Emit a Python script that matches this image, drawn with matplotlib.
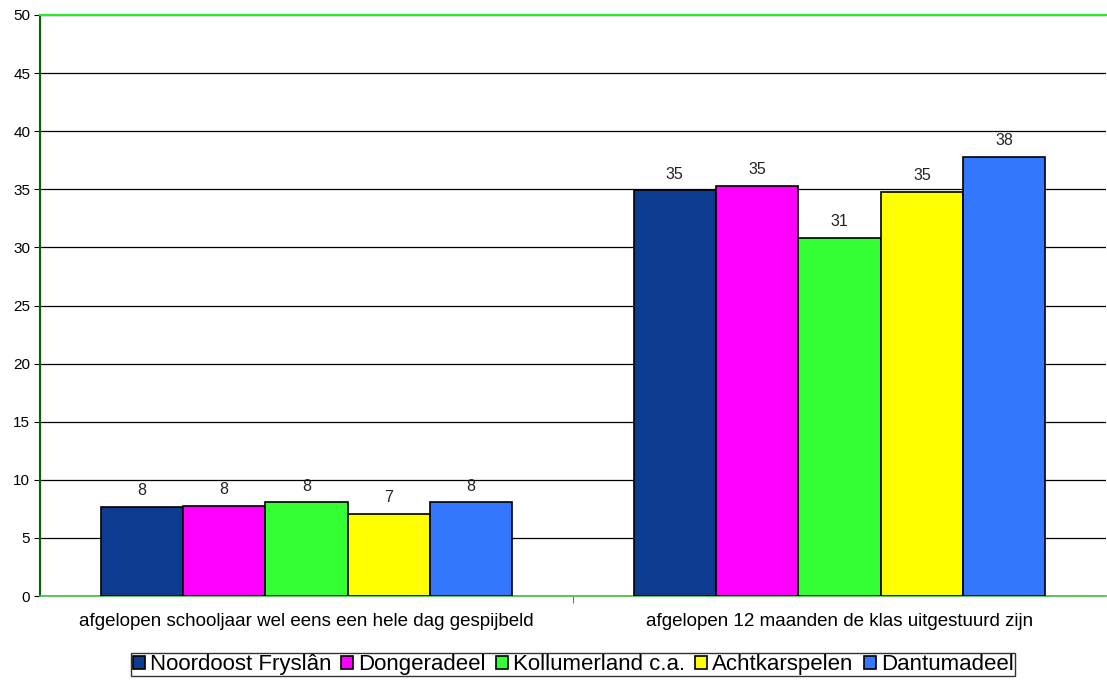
import matplotlib.pyplot as plt
import numpy as np

plt.rcParams['font.family'] = ['Liberation Sans', 'DejaVu Sans']

categories = ['afgelopen schooljaar wel eens een hele dag gespijbeld',
              'afgelopen 12 maanden de klas uitgestuurd zijn']
regions = ['Noordoost Fryslân', 'Dongeradeel', 'Kollumerland c.a.',
           'Achtkarspelen', 'Dantumadeel']
values = [[7.65, 34.9],
          [7.75, 35.3],
          [8.05, 30.8],
          [7.05, 34.75],
          [8.05, 37.8]]
labels = [['8', '35'], ['8', '35'], ['8', '31'], ['7', '35'], ['8', '38']]
colors = ['#0C3B8F', '#FF00FF', '#33FF33', '#FFFF00', '#3377FF']

fig = plt.figure(figsize=(11.07, 6.8), dpi=100)
ax = fig.add_axes([40/1107, 84/680, 1066/1107, 581/680])

x = np.arange(len(categories))
w = 0.1545
for i, (reg, vals) in enumerate(zip(regions, values)):
    pos = x + (i - 2) * w
    ax.bar(pos, vals, w, color=colors[i], edgecolor='black', linewidth=1.2,
           label=reg, zorder=3)
    for p, v, t in zip(pos, vals, labels[i]):
        ax.text(p, v + 0.75, t, ha='center', va='bottom', fontsize=11.5, color='#222222')

ax.set_xlim(-0.5, 1.5)
ax.set_ylim(0, 50)
ax.set_yticks(range(0, 51, 5))
ax.yaxis.grid(True, color='black', linewidth=0.9, zorder=0)
ax.set_axisbelow(True)
ax.set_xticks(x)
ax.set_xticklabels(categories, fontsize=13.5)
ax.tick_params(axis='x', length=0, pad=12)
ax.set_xticks([0.5], minor=True)
ax.tick_params(axis='x', which='minor', length=5, color='#555555')
ax.tick_params(axis='y', labelsize=11, length=4, pad=3)

ax.spines['right'].set_visible(False)
ax.spines['top'].set_color('#22EE22')
ax.spines['top'].set_linewidth(1.5)
ax.spines['bottom'].set_color('#44BB44')
ax.spines['bottom'].set_linewidth(1.2)
ax.spines['left'].set_color('#006600')
ax.spines['left'].set_linewidth(1.5)

leg = ax.legend(loc='upper center', bbox_to_anchor=(0.5, -0.0985), ncol=5,
                fontsize=16, frameon=True, fancybox=False, edgecolor='black',
                handlelength=0.55, handleheight=0.55, handletextpad=0.22,
                columnspacing=0.45, borderpad=0.05, borderaxespad=0)
leg.get_frame().set_linewidth(1.0)

fig.savefig('out.png', dpi=100)
